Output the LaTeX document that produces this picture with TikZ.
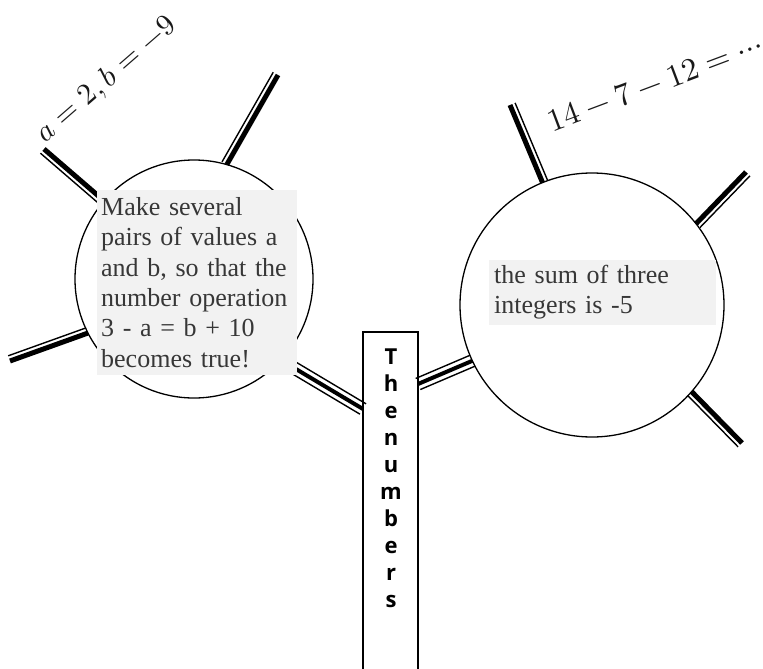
\documentclass[tikz,border=0pt]{standalone}
\usepackage{fontspec}
\usepackage{unicode-math}
\setmainfont{Liberation Serif}
\setmathfont{Latin Modern Math}
\newfontfamily\titlefont{Open Sans}
\usetikzlibrary{calc}
\definecolor{boxgray}{RGB}{242,242,242}
\definecolor{textgray}{RGB}{55,55,55}

% thick branch with a thin companion line on one side
% #1 inner end, #2 outer end, #3/#4 side angles (90/-90 or -90/90)
\newcommand\spoke[4]{%
  \draw[line width=5pt] (#1) -- (#2);
  \draw[line width=1.4pt] ($(#1)!5.5pt!#3:(#2)$) -- ($(#2)!5.5pt!#4:(#1)$);
}
% thin-thick-thin link between a circle and the stem
\newcommand\bridge[2]{%
  \draw[line width=4pt] (#1) -- (#2);
  \draw[line width=1.4pt] ($(#1)!6pt!90:(#2)$) -- ($(#2)!6pt!-90:(#1)$);
  \draw[line width=1.4pt] ($(#1)!6pt!-90:(#2)$) -- ($(#2)!6pt!90:(#1)$);
}

\tikzset{
  ring/.style={circle, draw, line width=1.3pt, inner sep=0pt, outer sep=0pt},
  card/.style={fill=boxgray, text=textgray, font=\fontsize{26}{30.4}\selectfont,
    align=left, anchor=north west},
  formula/.style={text=black!90},
}

\begin{document}
\begin{tikzpicture}[x=1pt,y=-1pt]
\useasboundingbox (0,0) rectangle (763,669);

% the two circles
\node[ring, minimum size=238pt] (L) at (194,279) {};
\node[ring, minimum size=264pt] (R) at (592,305) {};

% the stem
\node[draw, line width=1.3pt, minimum width=55pt, minimum height=360pt,
      inner sep=0pt, outer sep=0pt, anchor=north west] (stem) at (363,332) {};

% free ends of the branches
\coordinate (l1) at (44,149);
\coordinate (l2) at (278,75);
\coordinate (l3) at (10,361);
\coordinate (r1) at (510,105);
\coordinate (r2) at (746,172);
\coordinate (r3) at (742,443);

\spoke{L.139}{l1}{90}{-90}
\spoke{L.74}{l2}{90}{-90}
\spoke{L.207.6}{l3}{-90}{90}
\spoke{R.112.9}{r1}{-90}{90}
\spoke{R.38.5}{r2}{-90}{90}
\spoke{R.-41.3}{r3}{-90}{90}

\bridge{L.-43}{[yshift=-77pt]stem.north west}
\bridge{R.205}{[yshift=-52pt]stem.north east}

% texts
\node[card, text width=192pt, inner xsep=4pt, inner ysep=7pt] (task) at (97,190)
  {Make several\\pairs of values a\\and b, so that the\\number operation\\3 - a = b + 10\\becomes true!};
\node[card, text width=217pt, inner xsep=5pt, inner ysep=5pt] (fact) at (489,260)
  {the sum of three\\integers is -5};

\node[font=\titlefont\bfseries\fontsize{22}{27}\selectfont, align=center,
      inner sep=0pt, anchor=north] (title) at (391,349)
  {T\\h\\e\\n\\u\\m\\b\\e\\r\\s};

\node[formula, rotate=41, font=\fontsize{30}{36}\selectfont] (pairs) at (107,80) {$a=2,b=-9$};
\node[formula, rotate=20.6, font=\fontsize{32}{38}\selectfont] (sum) at (655,83) {$14-7-12=\cdots$};
\end{tikzpicture}
\end{document}
